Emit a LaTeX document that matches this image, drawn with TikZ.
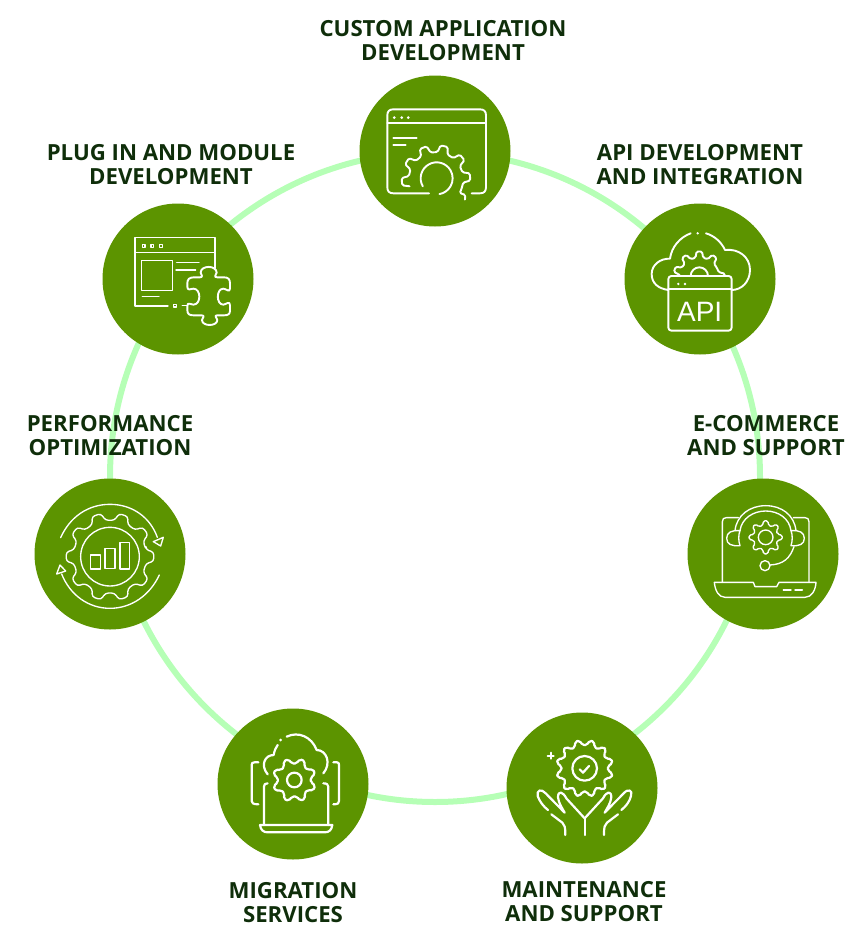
\documentclass[tikz,border=0pt]{standalone}
\usepackage{fontspec}
\setmainfont{Open Sans}
\newfontfamily\apifont{Liberation Sans}
\usetikzlibrary{positioning}
\definecolor{leafgreen}{HTML}{5C9400}
\definecolor{ringgreen}{HTML}{B6FFB6}
\definecolor{inkgreen}{HTML}{0F2E0A}
\newcommand{\gearpath}[6]{({#6+(#4-.3)*360/#3}:#1)
  \foreach \k in {#4,...,#5} { -- ({#6+(\k-.17)*360/#3}:#2) -- ({#6+(\k+.17)*360/#3}:#2) -- ({#6+(\k+.3)*360/#3}:#1) -- ({#6+(\k+.7)*360/#3}:#1)}}
\begin{document}
\begin{tikzpicture}[
x=1pt,y=-1pt,
badge/.style={circle, fill=leafgreen, inner sep=0pt, minimum size=151pt},
steplabel/.style={text=inkgreen, align=center, inner sep=0pt, font=\fontsize{22.2}{24}\selectfont\bfseries},
ringline/.style={draw=ringgreen, line width=6pt},
iconzoom/.style={x=0.3333pt,y=-0.3333pt},
iconline/.style={draw=white, line width=1.9pt, line cap=round, line join=round},
thinline/.style={iconline, line width=1.35pt},
thickline/.style={iconline, line width=2.2pt},
]
\useasboundingbox (0,0) rectangle (857,937);
%Ring
\coordinate (hub) at (435,477);
\draw[ringline] (hub) circle (325);

%Nodes
\node[badge] (custom)  at (435,151) {};
\node[badge] (plugin)  at (178,279) {};
\node[badge] (api)     at (700,279) {};
\node[badge] (perf)    at (110,554) {};
\node[badge] (ecom)    at (763,554) {};
\node[badge] (migrate) at (293,784) {};
\node[badge] (maint)   at (582,788) {};

%Labels
\node[steplabel] (customtext)  [above=14pt of custom,xshift=8pt]  {CUSTOM APPLICATION\\DEVELOPMENT};
\node[steplabel] (plugintext)  [above=18pt of plugin,xshift=-7pt] {PLUG IN AND MODULE\\DEVELOPMENT};
\node[steplabel] (apitext)     [above=18pt of api]                {API DEVELOPMENT\\AND INTEGRATION};
\node[steplabel] (perftext)    [above=22pt of perf]               {PERFORMANCE\\OPTIMIZATION};
\node[steplabel] (ecomtext)    [above=22pt of ecom,xshift=3pt]    {E-COMMERCE\\AND SUPPORT};
\node[steplabel] (migratetext) [below=22pt of migrate]            {MIGRATION\\SERVICES};
\node[steplabel] (mainttext)   [below=18pt of maint,xshift=2pt]   {MAINTENANCE\\AND SUPPORT};

%Custom application icon
\begin{scope}[shift={(355,75)},iconzoom]
\draw[iconline] (222,355) -- (115,355) .. controls (103,355) and (97,349) .. (97,337) -- (97,121) .. controls (97,109) and (103,103) .. (115,103) -- (375,103) .. controls (387,103) and (393,109) .. (393,121) -- (393,337) .. controls (393,349) and (387,355) .. (375,355) -- (350,355);
\draw[iconline] (97,145) -- (393,145);
\foreach \dotx in {118,140,160} \fill[white] (\dotx,128) circle (4.5);
\draw[iconline] (115,188) -- (185,188);
\draw[iconline] (115,210) -- (152,210);
\draw[iconline,rounded corners=1.5pt,shift={(243,313)}] \gearpath{82}{103}{10}{-5}{0}{-4} -- (30:82) -- (28:100) -- (35:106);
\draw[iconline,shift={(245,310)}] (150:48) arc[start angle=150,end angle=440,radius=48];
\end{scope}

%Plug in icon
\begin{scope}[shift={(100,200)},iconzoom]
\draw[thinline] (345,205) -- (345,112) -- (105,112) -- (105,318) -- (204,318);
\draw[thinline] (105,157) -- (345,157);
\foreach \dotx in {131,157,183} \draw[thinline] (\dotx-4,134) rectangle (\dotx+4,142);
\draw[thinline] (125,182) rectangle (217,272);
\draw[thinline] (230,187) -- (297,187);
\draw[thinline] (228,210) -- (287,210);
\draw[thinline] (127,290) -- (177,290);
\draw[thinline] (221,313) rectangle (229,321);
\draw[thinline] (247,317) -- (262,317);
\draw[iconline] (282,232) -- (300,232) .. controls (312,232) and (302,222) .. (302,218) .. controls (302,195) and (350,195) .. (350,218) .. controls (350,224) and (338,232) .. (352,232) -- (372,232) .. controls (385,232) and (390,238) .. (390,250) -- (390,265) .. controls (390,280) and (378,266) .. (370,266) .. controls (348,266) and (348,314) .. (370,314) .. controls (378,314) and (390,300) .. (390,316) -- (390,332) .. controls (390,342) and (385,346) .. (372,346) -- (352,346) .. controls (340,346) and (352,354) .. (352,360) .. controls (352,380) and (306,380) .. (306,360) .. controls (306,354) and (318,346) .. (304,346) -- (280,346) .. controls (268,346) and (262,342) .. (262,330) -- (262,318) .. controls (262,305) and (272,314) .. (280,314) .. controls (304,314) and (304,266) .. (280,266) .. controls (272,266) and (262,274) .. (262,260) -- (262,250) .. controls (262,238) and (268,232) .. (282,232) -- cycle;
\end{scope}

%API icon
\begin{scope}[shift={(620,200)},iconzoom]
\draw[iconline,rounded corners=3pt] (145,228) rectangle (335,392);
\draw[iconline] (145,268) -- (335,268);
\foreach \dotx in {175,195} \fill[white] (\dotx,252) circle (4);
\draw[iconline] (145,270) .. controls (115,266) and (95,250) .. (95,222) .. controls (95,195) and (120,175) .. (150,176) .. controls (155,140) and (180,112) .. (212,100);
\fill[white] (233,100) circle (4);
\draw[iconline] (258,100) .. controls (285,108) and (305,128) .. (315,150) .. controls (355,145) and (390,170) .. (390,210) .. controls (390,245) and (365,270) .. (335,270);
\draw[iconline,rounded corners=1.5pt,shift={(238,232)}] \gearpath{60}{78}{10}{-4}{-1}{-18} -- (-15:60) -- (-8:78) -- (-3:76);
\draw[iconline,shift={(238,228)}] (-180:26) arc[start angle=-180,end angle=0,radius=26];
\node[text=white, inner sep=0pt, font=\apifont\fontsize{28}{28}\selectfont] (apiword) at (239,335) {API};
\end{scope}

%Performance icon
\begin{scope}[shift={(30,475)},iconzoom]
\draw[thinline,rounded corners=3pt,shift={(240,245)}] \gearpath{110}{132}{10}{0}{9}{0} -- cycle;
\draw[thinline] (240,245) circle (88);
\draw[thinline] (182,240) rectangle (212,282);
\draw[thinline] (225,220) rectangle (255,280);
\draw[thinline] (270,203) rectangle (298,282);
\draw[thinline] (92,188) .. controls (120,125) and (175,88) .. (240,88) .. controls (305,88) and (360,125) .. (382,187);
\draw[thinline] (370,200) -- (400,187) -- (392,213) -- cycle;
\draw[thinline] (388,300) .. controls (360,360) and (305,400) .. (240,400) .. controls (175,400) and (120,360) .. (95,297);
\draw[thinline] (80,297) -- (90,270) -- (107,288) -- cycle;
\end{scope}

%E-commerce icon
\begin{scope}[shift={(685,475)},iconzoom]
\draw[thinline] (160,128) -- (124,128) .. controls (116,128) and (112,132) .. (112,140) -- (112,322);
\draw[thinline] (325,128) -- (360,128) .. controls (368,128) and (372,132) .. (372,140) -- (372,322);
\draw[thinline] (88,322) -- (205,322) -- (210,335) -- (275,335) -- (282,322) -- (393,322) .. controls (392,345) and (380,367) .. (360,367) -- (120,367) .. controls (100,367) and (90,345) .. (88,322) -- cycle;
\draw[thinline] (295,345) -- (318,345);
\draw[thinline] (330,345) -- (352,345);
\draw[thinline] (150,167) .. controls (155,120) and (195,92) .. (242,92) .. controls (290,92) and (328,120) .. (333,167);
\draw[thinline] (165,167) .. controls (170,130) and (205,108) .. (242,108) .. controls (280,108) and (313,130) .. (318,167);
\draw[thinline] (165,167) .. controls (140,165) and (125,172) .. (125,190) .. controls (125,208) and (140,214) .. (165,212) .. controls (160,198) and (160,180) .. (165,167) -- cycle;
\draw[thinline] (318,167) .. controls (343,165) and (358,172) .. (358,190) .. controls (358,208) and (343,214) .. (318,212) .. controls (323,198) and (323,180) .. (318,167) -- cycle;
\draw[thinline,rounded corners=1.5pt,shift={(242,187)}] \gearpath{37}{50}{8}{0}{7}{0} -- cycle;
\draw[thinline] (242,187) circle (22);
\draw[thinline] (327,215) .. controls (315,250) and (295,268) .. (255,270);
\draw[thinline] (240,272) circle (15);
\end{scope}

%Migration icon
\begin{scope}[shift={(215,705)},iconzoom]
\draw[thickline] (130,172) -- (118,172) .. controls (112,172) and (110,175) .. (110,180) -- (110,288) .. controls (110,294) and (114,298) .. (130,298);
\draw[thickline] (355,172) -- (366,172) .. controls (371,172) and (372,175) .. (372,180) -- (372,288) .. controls (372,294) and (370,298) .. (355,298);
\draw[thickline] (147,360) -- (147,245) .. controls (147,238) and (150,235) .. (158,235);
\draw[thickline] (325,235) .. controls (335,235) and (340,238) .. (340,245) -- (340,360);
\draw[thickline] (135,360) -- (352,360) .. controls (350,375) and (342,382) .. (330,382) -- (158,382) .. controls (145,382) and (137,375) .. (135,360) -- cycle;
\draw[thickline] (158,208) .. controls (135,180) and (150,150) .. (176,150) .. controls (178,138) and (182,128) .. (188,120);
\fill[white] (197,105) circle (4.5);
\draw[thickline] (215,95) .. controls (250,78) and (290,95) .. (305,135) .. controls (335,135) and (350,175) .. (325,205);
\draw[thickline,rounded corners=2pt,shift={(238,225)}] \gearpath{50}{65}{8}{0}{7}{22} -- cycle;
\draw[thickline] (238,225) circle (22);
\end{scope}

%Maintenance icon
\begin{scope}[shift={(503,710)},iconzoom]
\draw[thickline,rounded corners=2pt,shift={(245,175)}] \gearpath{70}{85}{12}{0}{11}{15} -- cycle;
\draw[thickline] (245,175) circle (37);
\draw[thickline] (230,178) -- (240,188) -- (258,168);
\draw[thickline] (134,137) -- (152,137);
\draw[thickline] (143,128) -- (143,146);
\draw[thickline] (245,325) -- (190,265) .. controls (180,245) and (165,240) .. (165,262) .. controls (167,280) and (178,295) .. (185,308) -- (128,250) .. controls (115,235) and (100,240) .. (104,258) .. controls (110,275) and (122,290) .. (135,300);
\draw[thickline] (145,313) -- (178,338) .. controls (185,345) and (187,350) .. (187,375);
\draw[thickline] (245,325) -- (245,375);
\draw[thickline] (245,325) -- (300,265) .. controls (310,245) and (325,240) .. (325,262) .. controls (323,280) and (312,295) .. (305,308) -- (362,250) .. controls (375,235) and (390,240) .. (384,258) .. controls (380,275) and (368,290) .. (355,300);
\draw[thickline] (345,313) -- (312,338) .. controls (305,345) and (303,350) .. (303,375);
\end{scope}
\end{tikzpicture}
\end{document}
